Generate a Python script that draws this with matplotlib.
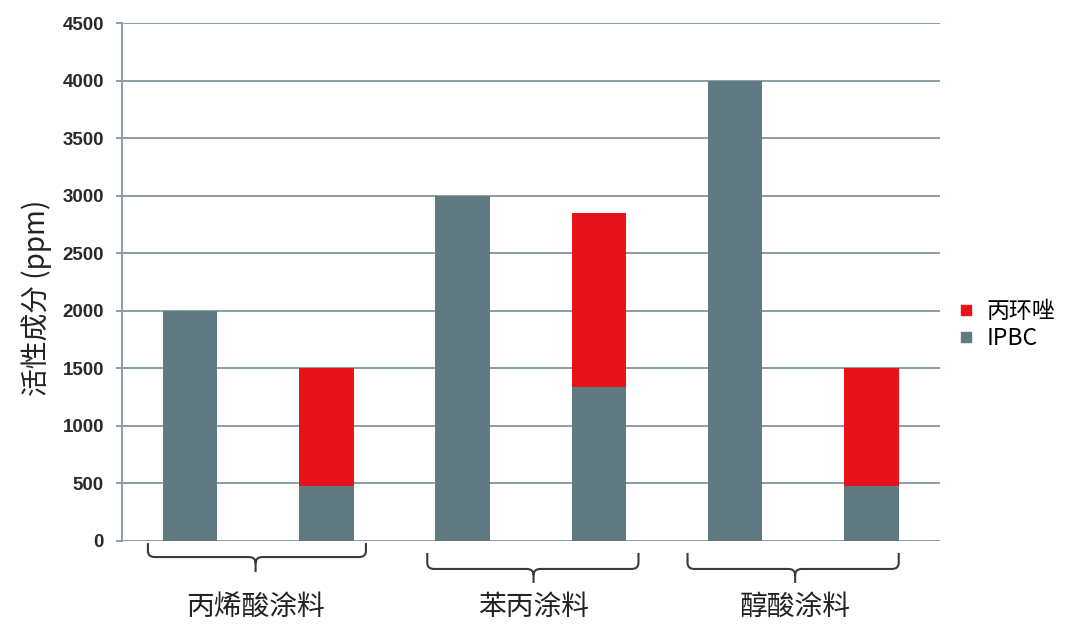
import matplotlib
matplotlib.use("Agg")
import matplotlib.pyplot as plt
import numpy as np
from matplotlib.path import Path
from matplotlib.patches import PathPatch
from matplotlib.lines import Line2D
import matplotlib.transforms as mtransforms

plt.rcParams['font.family'] = ['Noto Sans CJK SC', 'DejaVu Sans']

# data
categories = ['丙烯酸涂料', '苯丙涂料', '醇酸涂料']
ipbc_only = [2000, 3000, 4000]          # IPBC alone
ipbc_mix = [480, 1340, 480]             # IPBC part of the mixed system
propi_mix = [1020, 1510, 1020]          # propiconazole part of the mixed system
legend_labels = ['丙环唑', 'IPBC']
yticks = [0, 500, 1000, 1500, 2000, 2500, 3000, 3500, 4000, 4500]

gray = '#607a81'
red = '#e8121b'
grid_c = '#8a9ea8'

fig = plt.figure(figsize=(10.8, 6.4), dpi=100)
ax = fig.add_axes([0.113, 0.1547, 0.757, 0.809])

n = len(categories)
x_single = np.arange(n) * 2
x_mix = x_single + 1
w = 0.40

ax.bar(x_single, ipbc_only, width=w, color=gray, zorder=3)
ax.bar(x_mix, ipbc_mix, width=w, color=gray, zorder=3)
ax.bar(x_mix, propi_mix, width=w, bottom=ipbc_mix, color=red, zorder=3)

ax.set_xlim(-0.5, 2 * n - 0.5)
ax.set_ylim(0, 4500)
ax.set_yticks(yticks)
ax.set_xticks([])
ax.grid(axis='y', color=grid_c, linewidth=1.4, zorder=0)
for s in ['top', 'right', 'bottom']:
    ax.spines[s].set_visible(False)
ax.spines['left'].set_color(grid_c)
ax.spines['left'].set_linewidth(1.4)
ax.tick_params(axis='y', length=4, width=1.4, color=grid_c, pad=9)
for lab in ax.get_yticklabels():
    lab.set_fontfamily(['Liberation Sans', 'DejaVu Sans'])
    lab.set_fontweight('bold')
    lab.set_fontsize(13.5)
    lab.set_color('#2a2a2a')

ax.set_ylabel('活性成分 (ppm)', fontsize=20, color='#222222')
ax.yaxis.set_label_coords(-0.086, 0.469)

# braces under each group
trans = mtransforms.blended_transform_factory(ax.transData, ax.transAxes)
brace_shift = [(-0.31, 1.29, 0.48, -0.004, -0.031, -0.060),
               (-0.26, 1.29, 0.52, -0.023, -0.054, -0.081),
               (-0.35, 1.20, 0.44, -0.023, -0.054, -0.081)]


def draw_brace(x0, x1, xc, yt, yl, ytip):
    dx, dy = 0.05, 0.012
    verts = [(x0, yt), (x0, yl + dy), (x0, yl), (x0 + dx, yl),
             (xc - dx, yl), (xc, yl), (xc, yl - dy), (xc, ytip),
             (xc, yl - dy), (xc, yl), (xc + dx, yl),
             (x1 - dx, yl), (x1, yl), (x1, yl + dy), (x1, yt)]
    codes = [Path.MOVETO, Path.LINETO, Path.CURVE3, Path.CURVE3,
             Path.LINETO, Path.CURVE3, Path.CURVE3, Path.LINETO,
             Path.MOVETO, Path.CURVE3, Path.CURVE3,
             Path.LINETO, Path.CURVE3, Path.CURVE3, Path.LINETO]
    p = PathPatch(Path(verts, codes), transform=trans, fill=False,
                  edgecolor='#3a3a3a', linewidth=1.5, clip_on=False)
    ax.add_patch(p)


for i, cat in enumerate(categories):
    a, b, c, yt, yl, ytip = brace_shift[i]
    g = x_single[i]
    draw_brace(g + a, g + b, g + c, yt, yl, ytip)
    ax.text(g + c, -0.127, cat, transform=trans, ha='center', va='center',
            fontsize=20, color='#222222')

handles = [Line2D([], [], marker='s', linestyle='none', color=red, markersize=6.5),
           Line2D([], [], marker='s', linestyle='none', color=gray, markersize=6.5)]
fig.legend(handles, legend_labels, loc='center left',
           bbox_to_anchor=(0.867, 0.492), frameon=False, fontsize=16.5,
           handlelength=0.8, handletextpad=0.5, labelspacing=0.15)

fig.savefig('out.png', dpi=100)
